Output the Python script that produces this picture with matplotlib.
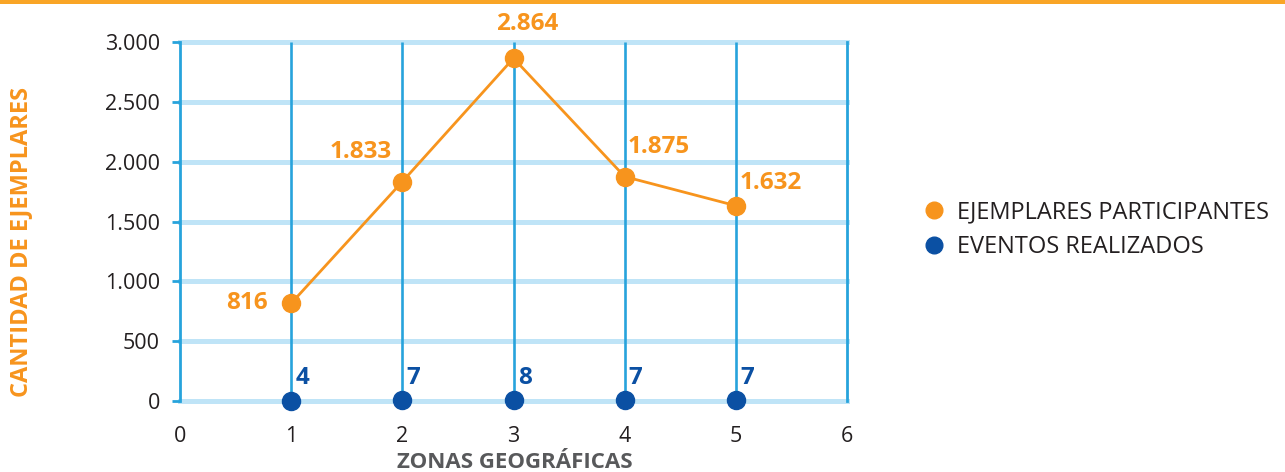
import matplotlib
matplotlib.use("Agg")
import matplotlib.pyplot as plt
from matplotlib.patches import Rectangle

zonas = [1, 2, 3, 4, 5]
ejemplares = [816, 1833, 2864, 1875, 1632]
eventos = [4, 7, 8, 7, 7]
ejemplares_labels = ["816", "1.833", "2.864", "1.875", "1.632"]
eventos_labels = ["4", "7", "8", "7", "7"]
yticks = [0, 500, 1000, 1500, 2000, 2500, 3000]
ytick_labels = ["0", "500", "1.000", "1.500", "2.000", "2.500", "3.000"]
xticks = [0, 1, 2, 3, 4, 5, 6]

ORANGE = "#f7941d"
DBLUE = "#0b50a3"
GRIDL = "#bfe4f7"
GRIDD = "#27a3dc"
TXT = "#231f20"
GRAY = "#58595b"

plt.rcParams['font.family'] = ['Open Sans', 'DejaVu Sans']

fig = plt.figure(figsize=(12.85, 4.72), dpi=100)
ax = fig.add_axes([180/1285, 1-401/472, (847-180)/1285, (401-42)/472])

ax.set_xlim(0, 6)
ax.set_ylim(0, 3000)

for y in yticks:
    ax.axhline(y, color=GRIDL, lw=3.6, zorder=1, clip_on=False)
for x in xticks[1:-1]:
    ax.plot([x, x], [3000, -25], color=GRIDD, lw=1.9, zorder=1.5, clip_on=False,
            solid_capstyle='butt')

for s in ['top', 'bottom']:
    ax.spines[s].set_visible(False)
for s in ['left', 'right']:
    ax.spines[s].set_color(GRIDD)
    ax.spines[s].set_linewidth(2.0)
    ax.spines[s].set_zorder(2)

ax.set_yticks(yticks)
ax.set_yticklabels(ytick_labels)
ax.set_xticks(xticks)
ax.set_xticklabels([str(x) for x in xticks])
ax.tick_params(axis='y', colors=GRIDD, length=5.5, width=2.0, labelcolor=TXT, labelsize=15.5, pad=9)
ax.tick_params(axis='x', length=0, labelcolor=TXT, labelsize=15.5, pad=18)

ax.plot(zonas, ejemplares, color=ORANGE, lw=2, marker='o', ms=13, zorder=4, clip_on=False,
        label="EJEMPLARES PARTICIPANTES")
ax.plot(zonas, eventos, color=DBLUE, lw=0, marker='o', ms=13, zorder=4, clip_on=False,
        label="EVENTOS REALIZADOS")

offsets = [(-17, 0, 'right'), (-8, 21, 'right'), (10, 25, 'center'),
           (2, 21, 'left'), (3, 16, 'left')]
for x, y, lab, (dx, dy, ha) in zip(zonas, ejemplares, ejemplares_labels, offsets):
    ax.annotate(lab, (x, y), xytext=(dx, dy), textcoords='offset points', ha=ha, va='center',
                color=ORANGE, fontsize=17.5, fontweight='bold', zorder=5)
for x, y, lab in zip(zonas, eventos, eventos_labels):
    ax.annotate(lab, (x, y), xytext=(3, 16), textcoords='offset points', ha='left', va='center',
                color=DBLUE, fontsize=17.5, fontweight='bold', zorder=5)

fig.text(21/1285, 1-242/472, "CANTIDAD DE EJEMPLARES", rotation=90, ha='center', va='center',
         color=ORANGE, fontsize=17, fontweight='bold')
fig.text(515/1285, 1-468/472, "ZONAS GEOGRÁFICAS", ha='center', va='baseline',
         color=GRAY, fontsize=16, fontweight='bold')

leg = fig.legend(loc='upper left', bbox_to_anchor=(903/1285, 1-179/472), frameon=False,
                 fontsize=17, handlelength=0.8, handletextpad=0.6, labelspacing=0.45,
                 labelcolor=TXT)
for h in leg.legend_handles:
    h.set_linestyle('none')
    h.set_markersize(12)

fig.add_artist(Rectangle((0, 1-4/472), 1, 4/472, transform=fig.transFigure,
                         color="#f9a526", lw=0))

fig.savefig("out.png", dpi=100)
